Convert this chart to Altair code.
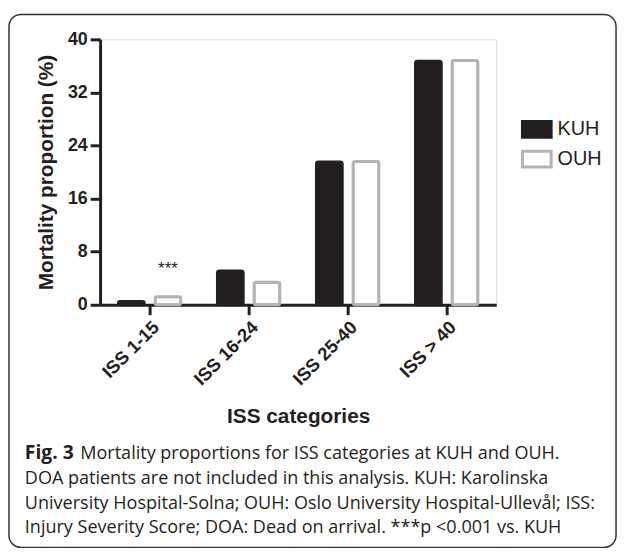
import altair as alt
import pandas as pd

categories = ["ISS 1-15", "ISS 16-24", "ISS 25-40", "ISS > 40"]
hospitals = ["KUH", "OUH"]
kuh_values = [0.5, 5.1, 21.5, 36.7]
ouh_values = [1.2, 3.4, 21.6, 36.8]
y_ticks = [0, 8, 16, 24, 32, 40]
significance = ["***", "", "", ""]  # marks above OUH bars

caption_bold = "Fig. 3"
caption_line1 = "Mortality proportions for ISS categories at KUH and OUH."
caption_rest = [
    "DOA patients are not included in this analysis. KUH: Karolinska",
    "University Hospital-Solna; OUH: Oslo University Hospital-Ullevål; ISS:",
    "Injury Severity Score; DOA: Dead on arrival. ***p <0.001 vs. KUH",
]

rows = []
for c, k, o in zip(categories, kuh_values, ouh_values):
    rows.append({"cat": c, "hosp": "KUH", "val": k})
    rows.append({"cat": c, "hosp": "OUH", "val": o})
df = pd.DataFrame(rows)

ann = pd.DataFrame({"cat": categories, "hosp": ["OUH"] * 4, "val": ouh_values, "txt": significance})
ann = ann[ann["txt"] != ""]

FONT = "Liberation Sans"
DARK = "#231f20"
GREY = "#b3b3b3"

x_enc = alt.X(
    "cat:N", sort=categories,
    scale=alt.Scale(paddingInner=0, paddingOuter=0),
    axis=alt.Axis(
        title="ISS categories", labelAngle=-45, labelFont=FONT, labelFontSize=18.5,
        labelFontWeight="bold", labelColor=DARK, labelPadding=3,
        tickSize=10, tickWidth=3, tickColor=DARK, domainWidth=3, domainColor=DARK,
        titleFont=FONT, titleFontSize=21, titleFontWeight="bold", titleColor=DARK,
        titleX=200, titleY=119, titleBaseline="alphabetic", titleAnchor="middle",
        grid=False,
    ),
)
xo_enc = alt.XOffset("hosp:N", sort=hospitals, scale=alt.Scale(paddingInner=0.297, paddingOuter=0.5))
y_enc = alt.Y(
    "val:Q",
    scale=alt.Scale(domain=[0, 40], nice=False),
    axis=alt.Axis(
        values=y_ticks, title="Mortality proportion (%)", labelFont=FONT, labelFontSize=18,
        labelFontWeight="bold", labelColor=DARK, labelPadding=3,
        tickSize=10, tickWidth=3, tickColor=DARK, domainWidth=3, domainColor=DARK,
        titleFont=FONT, titleFontSize=21, titleFontWeight="bold", titleColor=DARK,
        titleX=-54, titleY=134, titleAngle=-90, titleBaseline="middle", titleAlign="center",
        grid=False,
    ),
)

legend_cfg = dict(
    title=None, orient="none", legendX=425, legendY=75,
    symbolType="M-1,-0.55H1V0.55H-1Z", symbolSize=841, symbolStrokeWidth=3,
    labelFont=FONT, labelFontSize=20, labelColor=DARK, labelOffset=5,
    rowPadding=0,
)

bars = alt.Chart(df).mark_bar(strokeWidth=3, cornerRadius=2).encode(
    x=x_enc,
    xOffset=xo_enc,
    y=y_enc,
    fill=alt.Fill("hosp:N", scale=alt.Scale(domain=hospitals, range=[DARK, "#ffffff"]),
                  legend=alt.Legend(**legend_cfg)),
    stroke=alt.Stroke("hosp:N", scale=alt.Scale(domain=hospitals, range=[DARK, GREY]),
                      legend=alt.Legend(**legend_cfg)),
)

stars = alt.Chart(ann).mark_text(font=FONT, fontSize=17, color=DARK, dy=-23, baseline="alphabetic").encode(
    x=alt.X("cat:N", sort=categories),
    xOffset=alt.XOffset("hosp:N", sort=hospitals),
    y="val:Q",
    text="txt:N",
)

one = pd.DataFrame({"k": [0]})
frame = alt.Chart(one).mark_rect(
    fill="#ffffff", fillOpacity=0, stroke="#333333", strokeWidth=1.5, cornerRadius=12
).encode(x=alt.value(-92), x2=alt.value(521), y=alt.value(-25), y2=alt.value(513))

CFONT = "Open Sans"
CSIZE = 18.2
cap_bold = alt.Chart(one).mark_text(
    font=CFONT, fontSize=19.5, fontWeight="bold", color=DARK, align="left", baseline="alphabetic"
).encode(x=alt.value(-76), y=alt.value(424), text=alt.value(caption_bold))
cap_l1 = alt.Chart(one).mark_text(
    font=CFONT, fontSize=CSIZE, color=DARK, align="left", baseline="alphabetic"
).encode(x=alt.value(-20), y=alt.value(424), text=alt.value(caption_line1))
cap_rest = alt.Chart(one).mark_text(
    font=CFONT, fontSize=CSIZE, color=DARK, align="left", baseline="alphabetic", lineHeight=25
).encode(x=alt.value(-76), y=alt.value(449), text=alt.value(caption_rest))

chart = alt.layer(frame, bars, stars, cap_bold, cap_l1, cap_rest).properties(
    width=400, height=268,
    autosize=alt.AutoSizeParams(type="none"),
    padding={"left": 93, "top": 29, "right": 124, "bottom": 247},
).configure_view(stroke=None).configure(background="#ffffff")

chart.save("out.html", embed_options={"renderer": "svg", "actions": False})
